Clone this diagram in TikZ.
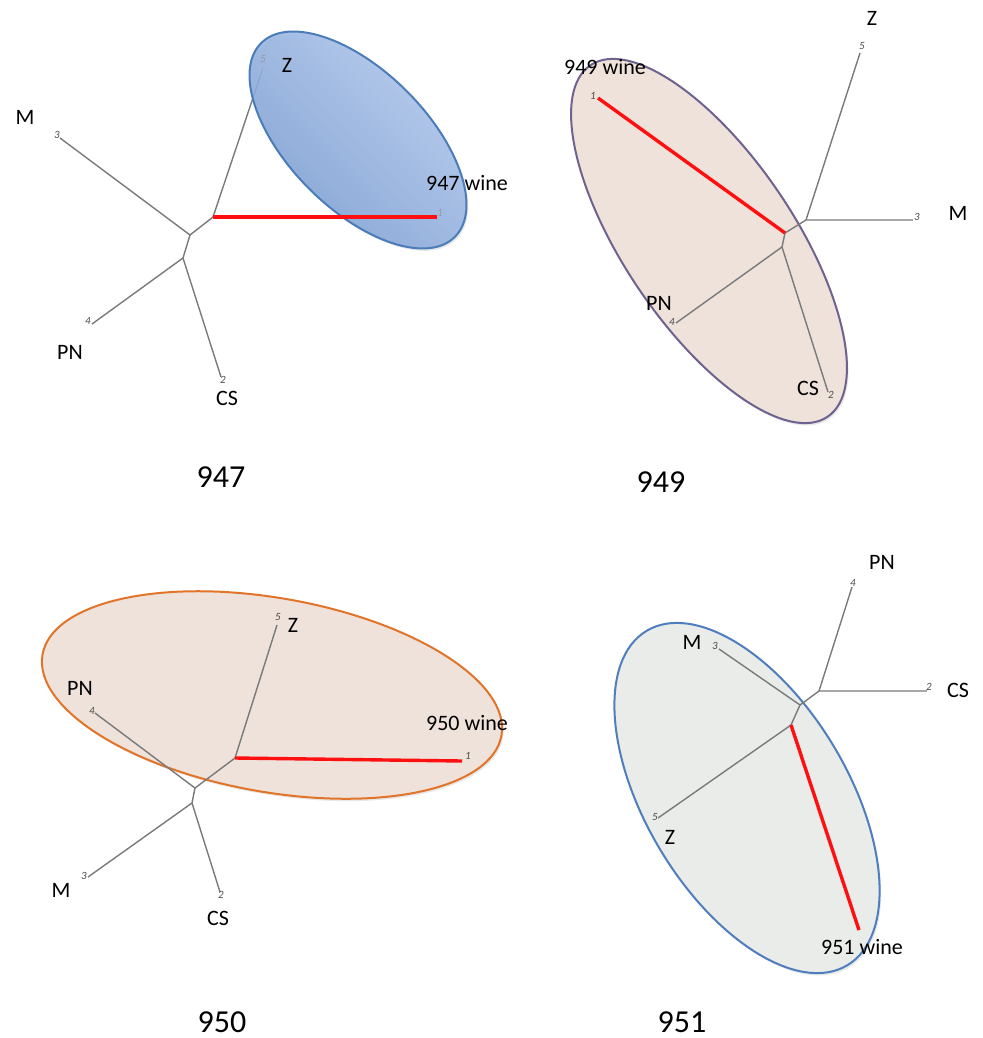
\documentclass[tikz,border=0pt]{standalone}
\usepackage{fontspec}
\setmainfont{Carlito}
\usepackage{xcolor}
\usepackage{tikz}
\usetikzlibrary{shadows}

\definecolor{treegray}{HTML}{7A7A7A}
\definecolor{winered}{HTML}{FF1010}
\definecolor{blueedge}{HTML}{4A7CB9}
\definecolor{bluedark}{HTML}{7A9DD3}
\definecolor{bluelight}{HTML}{B2CAEE}
\definecolor{purpleedge}{HTML}{6E6290}
\definecolor{beige}{HTML}{EEE2DA}
\definecolor{orangeedge}{HTML}{E2742A}
\definecolor{paleedge}{HTML}{4F7EBF}
\definecolor{palegreen}{HTML}{E9ECE8}

\tikzset{
  branch/.style={treegray, line width=0.7pt},
  winebranch/.style={winered, line width=1.7pt},
  leafnum/.style={font=\fontsize{5.5}{6}\selectfont\itshape, text=black!70, inner sep=0pt},
  taxon/.style={font=\fontsize{11}{13}\selectfont, inner sep=0pt},
  panelnum/.style={font=\fontsize{16}{19}\selectfont, inner sep=0pt},
  halo/.style={line width=1pt, drop shadow={opacity=0.18, shadow xshift=0.8pt, shadow yshift=-1.2pt}},
}

\begin{document}
\begin{tikzpicture}[x=0.5pt, y=-0.5pt]
\useasboundingbox (0,0) rectangle (982,1038);

% 947
\coordinate (a1) at (213,217);
\coordinate (b1) at (190,235);
\coordinate (c1) at (183,258);
\coordinate (z1) at (263,68);
\coordinate (w1) at (437,217);
\coordinate (m1) at (60,138);
\coordinate (p1) at (92,324);
\coordinate (s1) at (221,377);
\draw[branch] (m1) -- (b1) -- (a1) -- (z1);
\draw[branch] (b1) -- (c1) -- (p1);
\draw[branch] (c1) -- (s1);
\draw[halo, draw=blueedge, top color=bluelight, bottom color=bluedark, shading angle=-45, fill opacity=0.88]
  [rotate around={-45:(358,140)}] (358,140) ellipse [x radius=137, y radius=69];
\draw[winebranch] (a1) -- (w1);
\node[leafnum, text=black!40] (n5a) at (263,59) {5};
\node[leafnum, text=black!40] (n1a) at (440,213) {1};
\node[leafnum] (n3a) at (57,135) {3};
\node[leafnum] (n4a) at (88,321) {4};
\node[leafnum] (n2a) at (223,380) {2};
\node[taxon] (za) at (287,65) {Z};
\node[taxon] (ma) at (25,117) {M};
\node[taxon] (pa) at (70,352) {PN};
\node[taxon] (sa) at (227,398) {CS};
\node[taxon] (wa) at (467,183) {947 wine};
\node[panelnum] (t947) at (221,477) {947};

% 949
\draw[halo, draw=purpleedge, fill=beige]
  [rotate around={-56:(709,241)}] (709,241) ellipse [x radius=212, y radius=85];
\coordinate (a2) at (806,220);
\coordinate (b2) at (785,233);
\coordinate (c2) at (782,247);
\coordinate (z2) at (860,53);
\coordinate (m2) at (913,220);
\coordinate (w2) at (598,98);
\coordinate (p2) at (676,323);
\coordinate (s2) at (828,392);
\draw[branch] (z2) -- (a2) -- (m2);
\draw[branch] (a2) -- (b2) -- (c2) -- (p2);
\draw[branch] (c2) -- (s2);
\draw[winebranch] (b2) -- (w2);
\node[leafnum] (n5b) at (862,46) {5};
\node[leafnum] (n3b) at (917,217) {3};
\node[leafnum] (n1b) at (593,96) {1};
\node[leafnum] (n4b) at (672,322) {4};
\node[leafnum] (n2b) at (831,395) {2};
\node[taxon] (zb) at (872,18) {Z};
\node[taxon] (mb) at (958,213) {M};
\node[taxon] (wb) at (605,67) {949 wine};
\node[taxon] (pb) at (659,303) {PN};
\node[taxon] (sb) at (808,388) {CS};
\node[panelnum] (t949) at (661,482) {949};

% 950
\draw[halo, draw=orangeedge, fill=beige]
  [rotate around={-10:(272,695)}] (272,695) ellipse [x radius=233, y radius=97];
\coordinate (a3) at (235,758);
\coordinate (b3) at (195,788);
\coordinate (c3) at (192,803);
\coordinate (z3) at (277,625);
\coordinate (w3) at (462,761);
\coordinate (p3) at (95,713);
\coordinate (m3) at (88,877);
\coordinate (s3) at (220,892);
\draw[branch] (z3) -- (a3) -- (b3) -- (c3) -- (m3);
\draw[branch] (p3) -- (b3);
\draw[branch] (c3) -- (s3);
\draw[winebranch] (a3) -- (w3);
\node[leafnum] (n5c) at (278,617) {5};
\node[leafnum] (n1c) at (468,756) {1};
\node[leafnum] (n4c) at (92,711) {4};
\node[leafnum] (n3c) at (84,876) {3};
\node[leafnum] (n2c) at (221,895) {2};
\node[taxon] (zc) at (293,625) {Z};
\node[taxon] (pc) at (80,688) {PN};
\node[taxon] (wc) at (467,723) {950 wine};
\node[taxon] (mc) at (61,890) {M};
\node[taxon] (sc) at (218,918) {CS};
\node[panelnum] (t950) at (222,1022) {950};

% 951
\draw[halo, draw=paleedge, fill=palegreen]
  [rotate around={-59:(747,798)}] (747,798) ellipse [x radius=195, y radius=101];
\coordinate (a4) at (819,691);
\coordinate (b4) at (800,705);
\coordinate (c4) at (791,725);
\coordinate (p4) at (852,587);
\coordinate (s4) at (927,691);
\coordinate (m4) at (719,649);
\coordinate (z4) at (658,818);
\coordinate (w4) at (859,930);
\draw[branch] (p4) -- (a4) -- (s4);
\draw[branch] (a4) -- (b4) -- (m4);
\draw[branch] (b4) -- (c4) -- (z4);
\draw[winebranch] (c4) -- (w4);
\node[leafnum] (n4d) at (853,583) {4};
\node[leafnum] (n2d) at (929,687) {2};
\node[leafnum] (n3d) at (715,646) {3};
\node[leafnum] (n5d) at (655,817) {5};
\node[taxon] (pd) at (882,562) {PN};
\node[taxon] (sd) at (958,690) {CS};
\node[taxon] (md) at (692,642) {M};
\node[taxon] (zd) at (670,837) {Z};
\node[taxon] (wd) at (862,947) {951 wine};
\node[panelnum] (t951) at (682,1022) {951};
\end{tikzpicture}
\end{document}
